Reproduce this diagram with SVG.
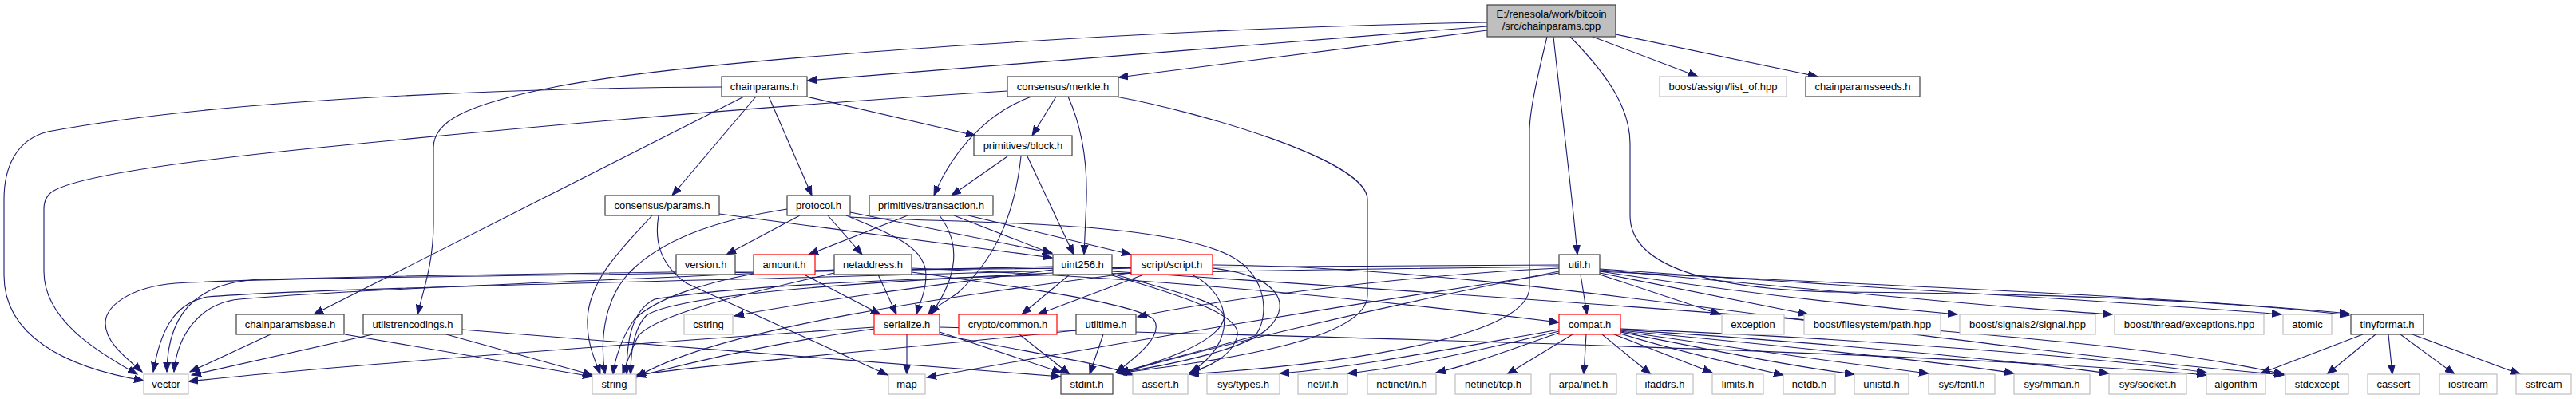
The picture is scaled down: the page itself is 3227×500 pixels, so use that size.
<svg xmlns="http://www.w3.org/2000/svg" width="3227" height="500" viewBox="0 0 3227 500">
<style>
rect{fill:#fff;stroke:#404040;stroke-width:1.2}
.g rect{stroke:#bfbfbf}
.r rect{stroke:#ff0000}
.root rect{fill:#bfbfbf}
text{font-family:"Liberation Sans",Arial,sans-serif;font-size:13px;text-anchor:middle;fill:#000}
#edges path{fill:none;stroke:#191970;stroke-width:1.1;marker-end:url(#arr)}
</style>
<defs>
<marker id="arr" markerUnits="userSpaceOnUse" markerWidth="13" markerHeight="10" refX="12" refY="5" orient="auto">
<path d="M0,0.5 L12,5 L0,9.5 z" fill="#191970" stroke="#191970" stroke-width="1"/>
</marker>
</defs>
<rect x="0" y="0" width="3227" height="500" style="fill:#fff;stroke:none"/>
<g id="edges">
<path d="M1863,28 C1500,34 900,70 700,108 C575,132 543,155 543,185 L543,280 C543,330 530,365 523,394"/>
<path d="M1863,33 L1011,101"/>
<path d="M1863,38 L1401,97"/>
<path d="M1946,46 C1955,130 1968,230 1976,319"/>
<path d="M1938,46 C1925,100 1916,140 1916,165 L1916,360 C1916,420 1700,455 1490,469"/>
<path d="M1995,46 L2127,96"/>
<path d="M2024,43 L2277,96"/>
<path d="M1967,46 C2020,100 2042,140 2042,180 L2042,270 C2042,330 2130,362 2300,366 C2600,368 2800,378 2943,395"/>
<path d="M904,109 C700,110 300,120 60,165 C20,175 5,210 5,250 L5,345 C5,420 80,460 180,477"/>
<path d="M932,121 L393,394"/>
<path d="M947,121 L842,245"/>
<path d="M963,121 L1017,245"/>
<path d="M1010,121 L1222,170"/>
<path d="M1262,114 C1000,130 700,155 400,185 C200,205 80,225 62,243 C57,248 55,255 55,262 L55,340 C55,400 120,440 172,469"/>
<path d="M1323,121 L1293,170"/>
<path d="M1338,121 C1358,165 1362,210 1361,250 L1358,319"/>
<path d="M1292,121 C1240,140 1195,185 1170,245"/>
<path d="M1398,121 C1500,140 1713,200 1713,250 L1713,370 C1713,430 1500,455 1400,468"/>
<path d="M1262,196 L1192,245"/>
<path d="M1287,196 L1345,319"/>
<path d="M1279,196 C1270,280 1240,330 1200,367 C1185,378 1170,385 1163,394"/>
<path d="M1137,270 L1013,319"/>
<path d="M1213,270 L1417,319"/>
<path d="M1177,270 C1200,300 1205,340 1166,394"/>
<path d="M1195,270 L1318,318"/>
<path d="M901,268 L1318,323"/>
<path d="M825,270 C820,300 825,330 860,355 L1112,470"/>
<path d="M817,270 C780,310 738,350 736,400 C735,430 745,450 752,469"/>
<path d="M1002,270 L910,319"/>
<path d="M1037,270 L1080,319"/>
<path d="M1060,270 C1120,295 1160,310 1160,345 C1160,365 1152,380 1148,394"/>
<path d="M1065,266 L1318,317"/>
<path d="M1065,272 C1200,280 1450,275 1540,320 C1590,345 1590,400 1572,421 L1402,467"/>
<path d="M986,262 C900,275 830,300 790,340 C760,370 750,420 758,469"/>
<path d="M1007,344 L1103,394"/>
<path d="M944,343 C880,355 820,375 795,400 C780,420 770,450 768,469"/>
<path d="M1100,344 L1123,394"/>
<path d="M1142,336 C1500,350 1800,385 1953,404"/>
<path d="M1142,341 C1280,360 1420,380 1445,400 C1460,420 1420,450 1398,467"/>
<path d="M1045,342 C950,365 830,390 800,420 C790,440 785,455 780,469"/>
<path d="M1045,338 C800,350 450,362 300,375 C250,380 222,420 218,466"/>
<path d="M1340,344 L1280,394"/>
<path d="M1319,338 C1150,360 1000,380 920,396"/>
<path d="M1393,343 C1470,365 1540,380 1533,400 C1525,430 1450,455 1402,467"/>
<path d="M1393,345 C1480,370 1555,395 1550,420 C1545,445 1515,460 1490,467"/>
<path d="M1393,340 C1700,360 2300,400 2600,430 C2750,445 2820,460 2861,469"/>
<path d="M1319,342 C1050,355 850,370 810,395 C795,410 790,440 790,469"/>
<path d="M1319,334 C900,345 400,345 220,355 C160,360 132,385 132,405 C132,430 160,450 178,466"/>
<path d="M1433,344 L1300,394"/>
<path d="M1493,344 C1545,370 1550,430 1492,466"/>
<path d="M1519,332 C1900,335 2300,420 2861,470"/>
<path d="M1519,336 C1600,345 1620,380 1590,410 C1560,440 1450,460 1402,467"/>
<path d="M1417,342 C1200,370 900,410 797,473"/>
<path d="M1417,336 C1000,350 400,360 260,372 C215,380 200,420 192,466"/>
<path d="M1136,419 L1136,469"/>
<path d="M1177,416 L1330,467"/>
<path d="M1177,419 C1280,440 1380,455 1420,470"/>
<path d="M1177,410 C1600,420 2400,440 2764,470"/>
<path d="M1095,412 C1000,425 900,445 797,472"/>
<path d="M1095,410 C800,430 400,460 236,478"/>
<path d="M1277,419 L1340,469"/>
<path d="M1382,419 L1365,469"/>
<path d="M1348,414 C1100,440 900,455 797,470"/>
<path d="M1980,344 L1988,394"/>
<path d="M2004,340 C2300,355 2700,370 2943,393"/>
<path d="M1953,336 C1750,345 1500,380 1425,397"/>
<path d="M2004,344 L2155,394"/>
<path d="M2004,342 L2265,394"/>
<path d="M2004,340 C2200,370 2350,385 2452,394"/>
<path d="M2004,338 C2300,365 2500,385 2646,394"/>
<path d="M2004,337 C2350,362 2700,380 2858,394"/>
<path d="M1953,342 C1700,380 1400,430 1161,473"/>
<path d="M1953,340 C1700,390 1500,440 1402,468"/>
<path d="M1953,334 C1500,340 1000,345 820,375 C790,390 785,430 785,469"/>
<path d="M1953,332 C1400,335 700,340 330,350 C260,352 210,380 209,466"/>
<path d="M1987,419 L1984,469"/>
<path d="M2007,419 L2068,469"/>
<path d="M2022,419 L2145,467"/>
<path d="M2030,418 C2100,440 2180,458 2234,470"/>
<path d="M2030,416 C2150,440 2250,460 2323,469"/>
<path d="M2030,415 C2200,440 2350,460 2416,468"/>
<path d="M2030,414 C2250,435 2450,455 2523,468"/>
<path d="M2030,413 C2300,430 2550,455 2642,468"/>
<path d="M2030,412 C2350,425 2650,450 2764,467"/>
<path d="M1970,419 L1888,469"/>
<path d="M1953,417 C1900,435 1850,455 1799,467"/>
<path d="M1953,415 C1850,440 1750,462 1688,468"/>
<path d="M1953,413 C1800,440 1700,460 1603,468"/>
<path d="M2960,419 L2832,468"/>
<path d="M2976,419 L2915,469"/>
<path d="M2992,419 L2997,469"/>
<path d="M3007,419 L3075,469"/>
<path d="M3022,419 L3157,469"/>
<path d="M339,419 L238,466"/>
<path d="M432,419 L742,472"/>
<path d="M467,419 L240,470"/>
<path d="M559,419 L742,470"/>
<path d="M579,413 C800,430 1100,455 1329,472"/>
</g>
<g id="root" class="root"><rect x="1863" y="6" width="161" height="40"/><text x="1943.5" y="22">E:/renesola/work/bitcoin</text><text x="1943.5" y="37">/src/chainparams.cpp</text></g>
<g id="chainparams_h"><rect x="904" y="96" width="107" height="25"/><text x="957.5" y="113">chainparams.h</text></g>
<g id="merkle_h"><rect x="1262" y="96" width="139" height="25"/><text x="1331.5" y="113">consensus/merkle.h</text></g>
<g id="list_of_hpp" class="g"><rect x="2079" y="96" width="159" height="25"/><text x="2158.5" y="113">boost/assign/list_of.hpp</text></g>
<g id="chainparamsseeds_h"><rect x="2262" y="96" width="143" height="25"/><text x="2333.5" y="113">chainparamsseeds.h</text></g>
<g id="block_h"><rect x="1220" y="170" width="123" height="25"/><text x="1281.5" y="187">primitives/block.h</text></g>
<g id="params_h"><rect x="758" y="245" width="143" height="25"/><text x="829.5" y="262">consensus/params.h</text></g>
<g id="protocol_h"><rect x="986" y="245" width="79" height="25"/><text x="1025.5" y="262">protocol.h</text></g>
<g id="transaction_h"><rect x="1089" y="245" width="155" height="25"/><text x="1166.5" y="262">primitives/transaction.h</text></g>
<g id="version_h"><rect x="847" y="319" width="74" height="25"/><text x="884" y="336">version.h</text></g>
<g id="amount_h" class="r"><rect x="944" y="319" width="77" height="25"/><text x="982.5" y="336">amount.h</text></g>
<g id="netaddress_h"><rect x="1045" y="319" width="97" height="25"/><text x="1093.5" y="336">netaddress.h</text></g>
<g id="uint256_h"><rect x="1319" y="319" width="74" height="25"/><text x="1356" y="336">uint256.h</text></g>
<g id="script_h" class="r"><rect x="1417" y="319" width="102" height="25"/><text x="1468" y="336">script/script.h</text></g>
<g id="util_h"><rect x="1953" y="319" width="51" height="25"/><text x="1978.5" y="336">util.h</text></g>
<g id="chainparamsbase_h"><rect x="296" y="394" width="135" height="25"/><text x="363.5" y="411">chainparamsbase.h</text></g>
<g id="utilstrencodings_h"><rect x="455" y="394" width="124" height="25"/><text x="517" y="411">utilstrencodings.h</text></g>
<g id="cstring" class="g"><rect x="857" y="394" width="61" height="25"/><text x="887.5" y="411">cstring</text></g>
<g id="serialize_h" class="r"><rect x="1095" y="394" width="82" height="25"/><text x="1136" y="411">serialize.h</text></g>
<g id="crypto_common_h" class="r"><rect x="1201" y="394" width="123" height="25"/><text x="1262.5" y="411">crypto/common.h</text></g>
<g id="utiltime_h"><rect x="1348" y="394" width="75" height="25"/><text x="1385.5" y="411">utiltime.h</text></g>
<g id="compat_h" class="r"><rect x="1953" y="394" width="77" height="25"/><text x="1991.5" y="411">compat.h</text></g>
<g id="exception" class="g"><rect x="2157" y="394" width="78" height="25"/><text x="2196" y="411">exception</text></g>
<g id="path_hpp" class="g"><rect x="2260" y="394" width="171" height="25"/><text x="2345.5" y="411">boost/filesystem/path.hpp</text></g>
<g id="signal_hpp" class="g"><rect x="2455" y="394" width="170" height="25"/><text x="2540" y="411">boost/signals2/signal.hpp</text></g>
<g id="exceptions_hpp" class="g"><rect x="2649" y="394" width="187" height="25"/><text x="2742.5" y="411">boost/thread/exceptions.hpp</text></g>
<g id="atomic" class="g"><rect x="2860" y="394" width="61" height="25"/><text x="2890.5" y="411">atomic</text></g>
<g id="tinyformat_h"><rect x="2945" y="394" width="91" height="25"/><text x="2990.5" y="411">tinyformat.h</text></g>
<g id="vector" class="g"><rect x="180" y="469" width="56" height="25"/><text x="208" y="486">vector</text></g>
<g id="string" class="g"><rect x="742" y="469" width="55" height="25"/><text x="769.5" y="486">string</text></g>
<g id="map" class="g"><rect x="1113" y="469" width="46" height="25"/><text x="1136" y="486">map</text></g>
<g id="stdint_h"><rect x="1329" y="469" width="65" height="25"/><text x="1361.5" y="486">stdint.h</text></g>
<g id="assert_h" class="g"><rect x="1419" y="469" width="69" height="25"/><text x="1453.5" y="486">assert.h</text></g>
<g id="sys_types_h" class="g"><rect x="1512" y="469" width="91" height="25"/><text x="1557.5" y="486">sys/types.h</text></g>
<g id="net_if_h" class="g"><rect x="1626" y="469" width="62" height="25"/><text x="1657" y="486">net/if.h</text></g>
<g id="netinet_in_h" class="g"><rect x="1713" y="469" width="86" height="25"/><text x="1756" y="486">netinet/in.h</text></g>
<g id="netinet_tcp_h" class="g"><rect x="1823" y="469" width="95" height="25"/><text x="1870.5" y="486">netinet/tcp.h</text></g>
<g id="arpa_inet_h" class="g"><rect x="1942" y="469" width="83" height="25"/><text x="1983.5" y="486">arpa/inet.h</text></g>
<g id="ifaddrs_h" class="g"><rect x="2050" y="469" width="71" height="25"/><text x="2085.5" y="486">ifaddrs.h</text></g>
<g id="limits_h" class="g"><rect x="2145" y="469" width="64" height="25"/><text x="2177" y="486">limits.h</text></g>
<g id="netdb_h" class="g"><rect x="2234" y="469" width="65" height="25"/><text x="2266.5" y="486">netdb.h</text></g>
<g id="unistd_h" class="g"><rect x="2323" y="469" width="68" height="25"/><text x="2357" y="486">unistd.h</text></g>
<g id="sys_fcntl_h" class="g"><rect x="2416" y="469" width="83" height="25"/><text x="2457.5" y="486">sys/fcntl.h</text></g>
<g id="sys_mman_h" class="g"><rect x="2523" y="469" width="95" height="25"/><text x="2570.5" y="486">sys/mman.h</text></g>
<g id="sys_socket_h" class="g"><rect x="2642" y="469" width="97" height="25"/><text x="2690.5" y="486">sys/socket.h</text></g>
<g id="algorithm" class="g"><rect x="2764" y="469" width="74" height="25"/><text x="2801" y="486">algorithm</text></g>
<g id="stdexcept" class="g"><rect x="2863" y="469" width="79" height="25"/><text x="2902.5" y="486">stdexcept</text></g>
<g id="cassert" class="g"><rect x="2966" y="469" width="65" height="25"/><text x="2998.5" y="486">cassert</text></g>
<g id="iostream" class="g"><rect x="3056" y="469" width="72" height="25"/><text x="3092" y="486">iostream</text></g>
<g id="sstream" class="g"><rect x="3152" y="469" width="69" height="25"/><text x="3186.5" y="486">sstream</text></g>
</svg>
